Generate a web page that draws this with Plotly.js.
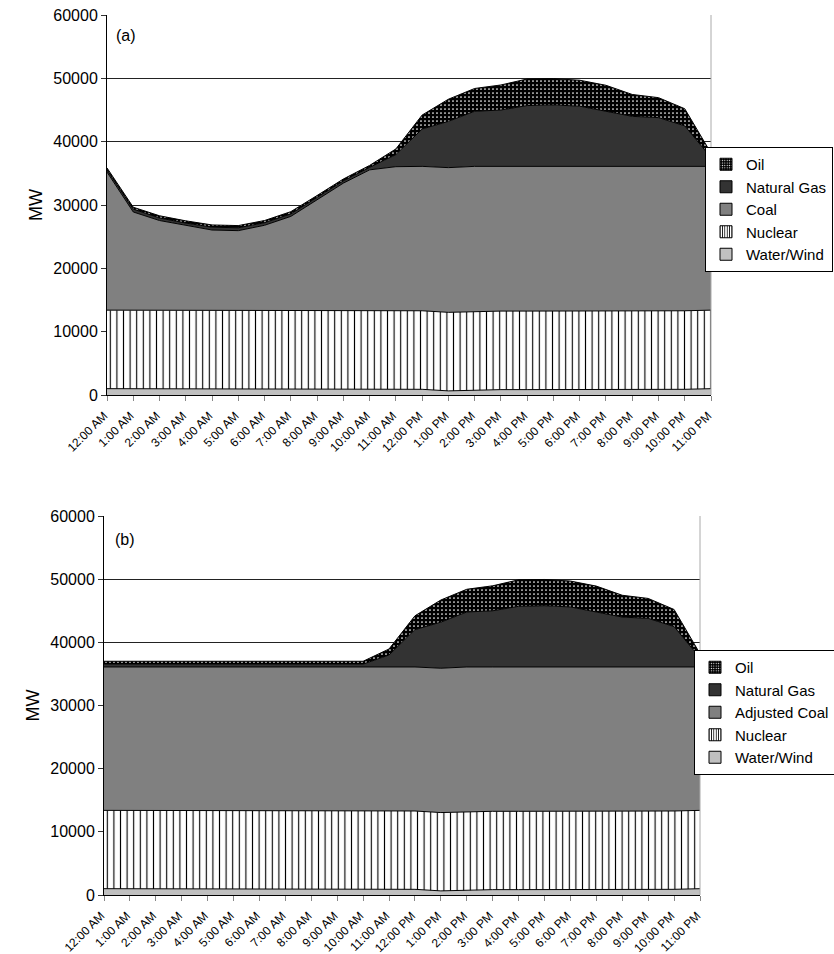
<!DOCTYPE html>
<html>
<head>
<meta charset="utf-8">
<script src="https://cdn.plot.ly/plotly-3.0.1.min.js"></script>
<style>html,body{margin:0;padding:0;background:#fff;overflow:hidden;}#chart{width:834px;height:954px;}</style>
</head>
<body>
<div id="chart"></div>
<script>
// ---- data (MW by hour) ----
var hours = ["12:00 AM","1:00 AM","2:00 AM","3:00 AM","4:00 AM","5:00 AM","6:00 AM","7:00 AM","8:00 AM","9:00 AM","10:00 AM","11:00 AM",
             "12:00 PM","1:00 PM","2:00 PM","3:00 PM","4:00 PM","5:00 PM","6:00 PM","7:00 PM","8:00 PM","9:00 PM","10:00 PM","11:00 PM"];

var waterWind = [1000,1000,1000,1000,1000,1000,1000,1000,1000,1000,1000,1000,900,650,800,850,850,850,850,850,850,850,900,1000];
var nuclear   = [12400,12400,12400,12400,12400,12400,12400,12400,12400,12400,12400,12400,12400,12400,12400,12400,12400,12400,12400,12400,12400,12400,12400,12400];

// (a) actual dispatch
var coalA = [21800,15500,14150,13350,12650,12550,13400,14800,17400,20050,22150,22650,22800,22850,22900,22850,22850,22850,22850,22850,22850,22850,22800,22700];
var gasA  = [350,450,400,400,450,450,400,400,400,350,400,1900,5900,7300,8700,8900,9600,9700,9500,8700,7900,7700,6400,1400];
var oilA  = [300,300,350,350,350,350,350,350,300,300,300,900,2200,3500,3600,3950,4200,4150,4100,4100,3450,3150,2700,700];

// (b) with adjusted coal
var coalB = [22700,22700,22700,22700,22700,22700,22700,22700,22700,22700,22700,22700,22800,22850,22900,22850,22850,22850,22850,22850,22850,22850,22800,22700];
var gasB  = [450,450,450,450,450,450,450,450,450,450,450,1900,5900,7300,8700,8900,9600,9700,9500,8700,7900,7700,6400,1400];
var oilB  = [450,450,450,450,450,450,450,450,450,450,450,950,2200,3500,3600,3950,4200,4150,4100,4100,3450,3150,2700,700];

var namesA = ["Water/Wind","Nuclear","Coal","Natural Gas","Oil"];
var namesB = ["Water/Wind","Nuclear","Adjusted Coal","Natural Gas","Oil"];

// ---- styles ----
var FONT = "Liberation Sans, Arial, Helvetica, sans-serif";
var styles = [
  {fillcolor:"#c0c0c0"},
  {fillcolor:"#ffffff", pattern:{shape:"|", fgcolor:"#000000", bgcolor:"#ffffff", size:6.6, solidity:0.17, fillmode:"replace"}},
  {fillcolor:"#808080"},
  {fillcolor:"#333333"},
  {fillcolor:"#000000", pattern:{shape:".", fgcolor:"#ffffff", bgcolor:"#000000", size:4, solidity:0.15, fillmode:"replace"}}
];

function areaTraces(series, names, xa, ya, group) {
  return series.map(function(vals, i) {
    var t = {
      type:"scatter", mode:"lines", x:hours, y:vals, name:names[i],
      xaxis:xa, yaxis:ya, stackgroup:group,
      line:{color:"#000000", width:1, shape:"linear"},
      fillcolor:styles[i].fillcolor, showlegend:false, hoverinfo:"skip"
    };
    if (styles[i].pattern) t.fillpattern = styles[i].pattern;
    return t;
  });
}
function legendTraces(names, xa, ya, leg) {
  return names.map(function(n, i) {
    var mk = {color:styles[i].fillcolor, line:{color:"#000000", width:1}};
    if (styles[i].pattern) {
      mk.pattern = {shape:styles[i].pattern.shape, fgcolor:styles[i].pattern.fgcolor,
                    bgcolor:styles[i].pattern.bgcolor, size:3, solidity:i===1?0.35:0.2, fillmode:"replace"};
    }
    return {type:"bar", x:[null], y:[null], name:n, xaxis:xa, yaxis:ya, legend:leg,
            marker:mk, showlegend:true, hoverinfo:"skip"};
  });
}

var data = []
  .concat(areaTraces([waterWind, nuclear, coalA, gasA, oilA], namesA, "x", "y", "a"))
  .concat(areaTraces([waterWind, nuclear, coalB, gasB, oilB], namesB, "x2", "y2", "b"))
  .concat(legendTraces(namesA, "x", "y", "legend"))
  .concat(legendTraces(namesB, "x2", "y2", "legend2"));

var W = 834, H = 954;
function px(x){ return x / W; }
function py(y){ return (H - y) / H; }

function xAxis(dom, anchor) {
  return {
    domain:dom, anchor:anchor, type:"category", range:[0,23], autorange:false,
    showgrid:false, zeroline:false, showline:true, linecolor:"#000000", linewidth:1,
    ticks:"outside", ticklen:5, tickcolor:"#888888", tickwidth:1,
    tickmode:"array", tickvals:hours, ticktext:hours, tickangle:-45,
    ticklabelstandoff:3, ticklabelshift:-3,
    tickfont:{family:FONT, size:12, color:"#000000"}, automargin:false, fixedrange:true
  };
}
function yAxis(dom, anchor) {
  return {
    domain:dom, anchor:anchor, range:[0,60000], autorange:false, dtick:10000, tick0:0,
    tickformat:"d", exponentformat:"none", separatethousands:false,
    showgrid:true, gridcolor:"#222222", gridwidth:1, zeroline:false,
    showline:true, linecolor:"#000000", linewidth:1,
    ticks:"outside", ticklen:5, tickcolor:"#333333",
    tickfont:{family:FONT, size:16, color:"#000000"},
    title:{text:"MW", font:{family:FONT, size:18, color:"#000000"}, standoff:5},
    automargin:false, fixedrange:true
  };
}

var layout = {
  width:W, height:H, autosize:false,
  margin:{l:0, r:0, t:0, b:0, autoexpand:false},
  paper_bgcolor:"#ffffff", plot_bgcolor:"#ffffff",
  font:{family:FONT, color:"#000000"},
  xaxis:xAxis([px(107), px(711)], "y"),
  yaxis:yAxis([py(395), py(15)], "x"),
  xaxis2:xAxis([px(104), px(700)], "y2"),
  yaxis2:yAxis([py(895), py(516)], "x2"),
  legend:{x:px(705), y:py(147), xanchor:"left", yanchor:"top", traceorder:"reversed",
          bgcolor:"#ffffff", bordercolor:"#000000", borderwidth:1,
          font:{family:FONT, size:15, color:"#000000"}, itemclick:false, itemdoubleclick:false},
  legend2:{x:px(694), y:py(650), xanchor:"left", yanchor:"top", traceorder:"reversed",
          bgcolor:"#ffffff", bordercolor:"#000000", borderwidth:1,
          font:{family:FONT, size:15, color:"#000000"}, itemclick:false, itemdoubleclick:false},
  annotations:[
    {text:"(a)", xref:"paper", yref:"paper", x:px(114), y:py(35), xanchor:"left", yanchor:"middle",
     showarrow:false, font:{family:FONT, size:16, color:"#000000"}},
    {text:"(b)", xref:"paper", yref:"paper", x:px(113), y:py(539), xanchor:"left", yanchor:"middle",
     showarrow:false, font:{family:FONT, size:16, color:"#000000"}}
  ],
  shapes:[
    {type:"line", xref:"x domain", yref:"y domain", x0:1, x1:1, y0:0, y1:1, line:{color:"#aaaaaa", width:1}},
    {type:"line", xref:"x2 domain", yref:"y2 domain", x0:1, x1:1, y0:0, y1:1, line:{color:"#aaaaaa", width:1}}
  ],
  showlegend:true, hovermode:false
};

Plotly.newPlot("chart", data, layout, {displayModeBar:false, staticPlot:true});
</script>
</body>
</html>
